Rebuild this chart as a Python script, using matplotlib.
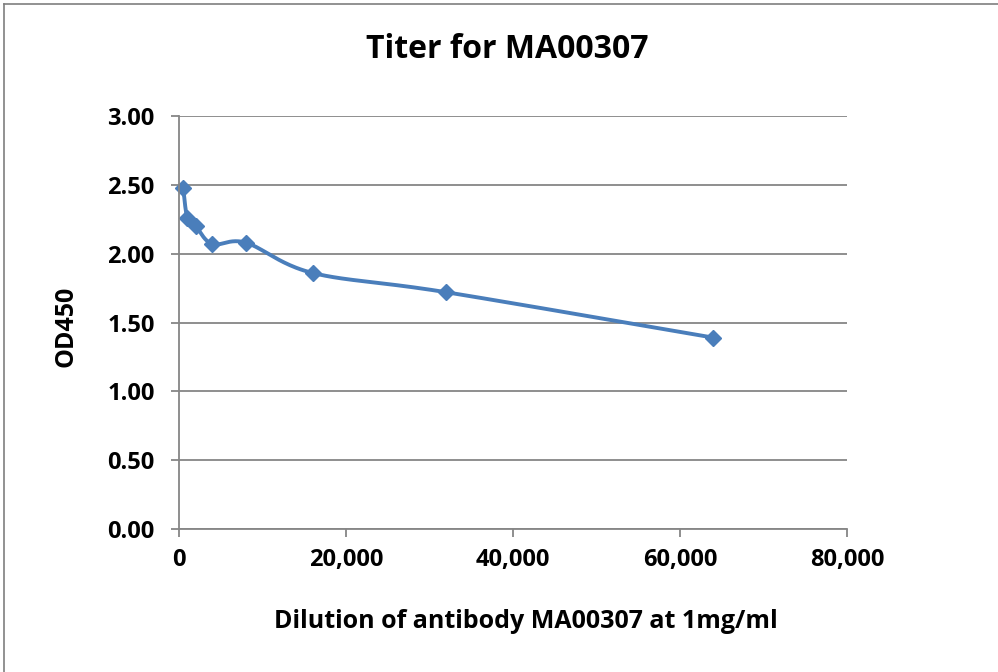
import numpy as np
import matplotlib
matplotlib.use("Agg")
import matplotlib.pyplot as plt
from matplotlib.ticker import FuncFormatter

# data
dilution = [500, 1000, 2000, 4000, 8000, 16000, 32000, 64000]
od450 = [2.48, 2.26, 2.20, 2.07, 2.08, 1.86, 1.72, 1.39]
title = "Titer for MA00307"
xlabel = "Dilution of antibody MA00307 at 1mg/ml"
ylabel = "OD450"

plt.rcParams['font.family'] = ['Open Sans', 'DejaVu Sans']
plt.rcParams['font.weight'] = 'bold'

W, H = 998, 672
fig = plt.figure(figsize=(W / 100, H / 100), dpi=100)
ax = fig.add_axes([179 / W, (H - 529) / H, (847 - 179) / W, (529 - 116) / H])

ax.set_xlim(0, 80000)
ax.set_ylim(0, 3)
ax.set_xticks(np.arange(0, 80001, 20000))
ax.set_yticks(np.arange(0, 3.01, 0.5))
ax.xaxis.set_major_formatter(FuncFormatter(lambda v, p: f"{v:,.0f}"))
ax.yaxis.set_major_formatter(FuncFormatter(lambda v, p: f"{v:.2f}"))

grid_col = "#868686"
ax.grid(axis='y', color=grid_col, linewidth=1.3)
ax.set_axisbelow(True)
for s in ['top', 'right']:
    ax.spines[s].set_visible(False)
for s in ['left', 'bottom']:
    ax.spines[s].set_color(grid_col)
    ax.spines[s].set_linewidth(1.3)
ax.tick_params(axis='both', colors=grid_col, length=5.5, width=1.3, labelsize=17,
               labelcolor='black')
ax.tick_params(axis='y', pad=12)
ax.tick_params(axis='x', pad=8)
for lab in ax.get_xticklabels() + ax.get_yticklabels():
    lab.set_fontweight('bold')

# smooth line like Excel: Catmull-Rom style bezier in screen space
fig.canvas.draw()
pts = ax.transData.transform(np.column_stack([dilution, od450]))
curve = []
n = len(pts)
for i in range(n - 1):
    p0 = pts[max(i - 1, 0)]
    p1 = pts[i]
    p2 = pts[i + 1]
    p3 = pts[min(i + 2, n - 1)]
    c1 = p1 + (p2 - p0) / 6
    c2 = p2 - (p3 - p1) / 6
    t = np.linspace(0, 1, 40)[:, None]
    seg = ((1 - t) ** 3) * p1 + 3 * ((1 - t) ** 2) * t * c1 + 3 * (1 - t) * t ** 2 * c2 + t ** 3 * p2
    curve.append(seg if i == 0 else seg[1:])
curve = ax.transData.inverted().transform(np.vstack(curve))

blue = "#4A7EBB"
ax.plot(curve[:, 0], curve[:, 1], color=blue, linewidth=2.8, solid_capstyle='round', clip_on=False)
ax.plot(dilution, od450, linestyle='none', marker='D', markersize=8.5, color=blue, clip_on=False)

fig.text(507 / W, 1 - 49 / H, title, ha='center', va='center', fontsize=23, fontweight='bold')
fig.text(526 / W, 1 - 622 / H, xlabel, ha='center', va='center', fontsize=18, fontweight='bold')
fig.text(66 / W, 1 - 326 / H, ylabel, ha='center', va='center', rotation=90, fontsize=18, fontweight='bold')

# outer chart frame (top and left edges visible)
fig.add_artist(plt.Line2D([4 / W, 1], [1 - 4 / H, 1 - 4 / H], transform=fig.transFigure, color="#7f7f7f", linewidth=1.2))
fig.add_artist(plt.Line2D([4 / W, 4 / W], [0, 1 - 4 / H], transform=fig.transFigure, color="#7f7f7f", linewidth=1.2))

fig.savefig("out.png", dpi=100)
